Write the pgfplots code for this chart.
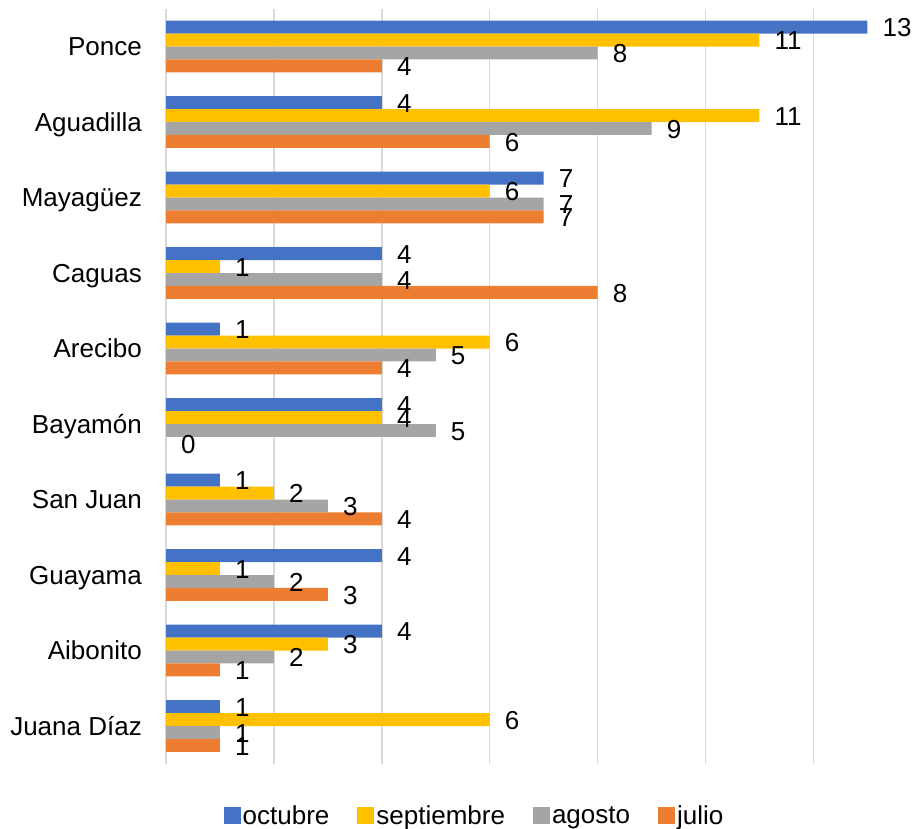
\documentclass[border=0pt]{standalone}
\usepackage{pgfplots}
\pgfplotsset{compat=1.18}
\usepackage{fontspec}
\setmainfont{Liberation Sans}
\definecolor{cOct}{HTML}{4472C4}
\definecolor{cSep}{HTML}{FFC000}
\definecolor{cAgo}{HTML}{A5A5A5}
\definecolor{cJul}{HTML}{ED7D31}
\definecolor{cGrid}{HTML}{D9D9D9}
\newcommand{\ff}{\fontsize{26bp}{31bp}\selectfont}
\begin{document}
\begin{tikzpicture}
\useasboundingbox (0,0) rectangle (917bp,829bp);
\begin{axis}[
  at={(166bp,65.2bp)}, anchor=south west,
  scale only axis, width=751bp, height=755bp,
  xbar, bar width=0.171,
  xmin=0, xmax=13.92, ymin=-0.5, ymax=9.5,
  xtick={0,2,...,12}, xticklabels={},
  xmajorgrids, grid style={cGrid, line width=1.5bp},
  ytick={0,...,9},
  yticklabels={Juana Díaz,Aibonito,Guayama,San Juan,Bayamón,Arecibo,Caguas,Mayagüez,Aguadilla,Ponce},
  yticklabel style={font=\ff, anchor=east, inner sep=0pt, xshift=-24bp, text height=18.6bp, text depth=0pt},
  tick style={draw=none}, major tick length=0pt,
  axis line style={draw=none},
  clip=false,
  /pgf/number format/assume math mode=true,
  point meta=x,
  nodes near coords,
  every node near coord/.append style={font=\ff, anchor=west, inner sep=0pt, xshift=15bp, yshift=-0.5bp, text height=18.6bp, text depth=0pt, black},
  legend columns=4,
  legend style={at={(axis description cs:0.4108,-0.0685)}, anchor=center, draw=none, inner sep=0pt,
    font=\ff, nodes={inner xsep=2bp, inner ysep=0pt},
    /tikz/every even column/.append style={column sep=26bp}},
  legend image code/.code={\fill[#1] (0bp,-8.5bp) rectangle (17bp,8.5bp);},
]
\addplot[fill=cOct, draw=none, bar shift=0.2565] coordinates {(13,9) (4,8) (7,7) (4,6) (1,5) (4,4) (1,3) (4,2) (4,1) (1,0)};
\addplot[fill=cSep, draw=none, bar shift=0.0855] coordinates {(11,9) (11,8) (6,7) (1,6) (6,5) (4,4) (2,3) (1,2) (3,1) (6,0)};
\addplot[fill=cAgo, draw=none, bar shift=-0.0855] coordinates {(8,9) (9,8) (7,7) (4,6) (5,5) (5,4) (3,3) (2,2) (2,1) (1,0)};
\addplot[fill=cJul, draw=none, bar shift=-0.2565] coordinates {(4,9) (6,8) (7,7) (8,6) (4,5) (0,4) (4,3) (3,2) (1,1) (1,0)};
\legend{octubre,septiembre,agosto,julio}
\end{axis}
\end{tikzpicture}
\end{document}
